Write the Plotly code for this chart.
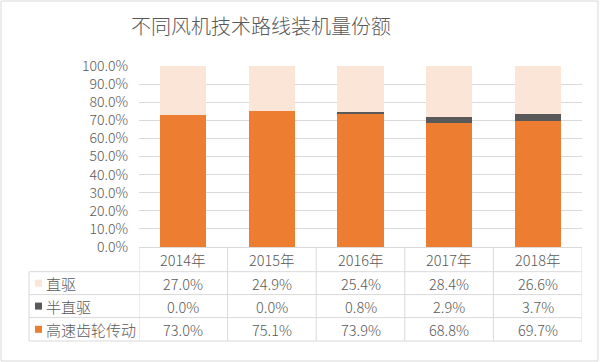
import plotly.graph_objects as go

# ---- data ----
years = ["2014年", "2015年", "2016年", "2017年", "2018年"]
direct_drive = [27.0, 24.9, 25.4, 28.4, 26.6]       # 直驱
semi_direct = [0.0, 0.0, 0.8, 2.9, 3.7]              # 半直驱
high_speed_gear = [73.0, 75.1, 73.9, 68.8, 69.7]     # 高速齿轮传动
title_text = "不同风机技术路线装机量份额"

# ---- styles ----
C_DIRECT = "#FBE5D6"
C_SEMI = "#595959"
C_GEAR = "#ED7D31"
GRID = "#D9D9D9"
TXT = "#595959"
FONT = "Noto Sans CJK SC Light, Noto Sans CJK SC"

W, H = 602, 362
L, R, T, B = 139, 20, 66, 115
pw = W - L - R
ph = H - T - B


def px(x):
    return (x - L) / pw


def py(y):
    return (H - B - y) / ph


fig = go.Figure()
fig.add_trace(go.Bar(x=years, y=high_speed_gear, name="高速齿轮传动",
                     marker=dict(color=C_GEAR, line=dict(width=0)), width=0.52))
fig.add_trace(go.Bar(x=years, y=semi_direct, name="半直驱",
                     marker=dict(color=C_SEMI, line=dict(width=0)), width=0.52))
fig.add_trace(go.Bar(x=years, y=direct_drive, name="直驱",
                     marker=dict(color=C_DIRECT, line=dict(width=0)), width=0.52))

shapes = []
annotations = []

# outer border
shapes.append(dict(type="rect", xref="paper", yref="paper",
                   x0=px(1), x1=px(598), y0=py(1), y1=py(361),
                   line=dict(color=GRID, width=1), fillcolor="rgba(0,0,0,0)", layer="below"))

# table geometry (pixel rows)
row_lines = [271.7, 294.6, 317.6, 341.0]
header_mid = (H - B + row_lines[0]) / 2
row_mids = [(row_lines[i] + row_lines[i + 1]) / 2 for i in range(3)]

# horizontal lines
for yl in row_lines:
    shapes.append(dict(type="line", xref="paper", yref="paper",
                       x0=px(29), x1=1, y0=py(yl), y1=py(yl),
                       line=dict(color=GRID, width=1)))
# vertical lines at category boundaries
for k in range(len(years) + 1):
    shapes.append(dict(type="line", xref="x", yref="paper",
                       x0=k - 0.5, x1=k - 0.5, y0=0, y1=py(row_lines[-1]),
                       line=dict(color=GRID, width=1)))
# left border of label column
shapes.append(dict(type="line", xref="paper", yref="paper",
                   x0=px(29), x1=px(29), y0=py(row_lines[0]), y1=py(row_lines[-1]),
                   line=dict(color=GRID, width=1)))

tfont = dict(family=FONT, size=14.5, color=TXT, weight=300)
lfont = dict(family=FONT, size=15, color=TXT, weight=300)

# header
for i, yr in enumerate(years):
    annotations.append(dict(x=yr, xref="x", y=py(header_mid), yref="paper",
                            text=yr, showarrow=False, font=tfont,
                            xanchor="center", yanchor="middle"))

rows = [("直驱", direct_drive, C_DIRECT),
        ("半直驱", semi_direct, C_SEMI),
        ("高速齿轮传动", high_speed_gear, C_GEAR)]
for (name, vals, col), ym in zip(rows, row_mids):
    shapes.append(dict(type="rect", xref="paper", yref="paper",
                       x0=px(35), x1=px(42), y0=py(ym + 3.5), y1=py(ym - 3.5),
                       line=dict(width=0), fillcolor=col))
    annotations.append(dict(x=px(44), xref="paper", y=py(ym), yref="paper",
                            text=name, showarrow=False, font=lfont,
                            xanchor="left", yanchor="middle"))
    for yr, v in zip(years, vals):
        annotations.append(dict(x=yr, xref="x", y=py(ym), yref="paper",
                                text=f"{v:.1f}%", showarrow=False, font=tfont,
                                xanchor="center", yanchor="middle"))

fig.update_layout(
    width=W, height=H,
    margin=dict(l=L, r=R, t=T, b=B),
    paper_bgcolor="white", plot_bgcolor="white",
    barmode="stack", barnorm="fraction",
    showlegend=False,
    font=dict(family=FONT, color=TXT, size=14, weight=300),
    title=dict(text=title_text, x=261 / W, xref="container", xanchor="center",
               y=1 - 27 / H, yref="container", yanchor="middle",
               font=dict(family=FONT, size=20, color=TXT, weight=300)),
    xaxis=dict(range=[-0.5, len(years) - 0.5], showticklabels=False, showgrid=False,
               showline=True, linecolor=GRID, linewidth=1, ticks="", zeroline=False,
               fixedrange=True),
    yaxis=dict(range=[0, 1], dtick=0.1, tickformat=".1%", showgrid=True,
               gridcolor=GRID, gridwidth=1, zeroline=False, showline=False,
               ticklabelstandoff=10, tickfont=dict(family=FONT, size=14, color=TXT, weight=300),
               fixedrange=True),
    shapes=shapes, annotations=annotations,
)

fig.write_html("out.html", config={"displayModeBar": False},
               post_script="document.body.style.margin='0px';document.body.style.overflow='hidden';")
